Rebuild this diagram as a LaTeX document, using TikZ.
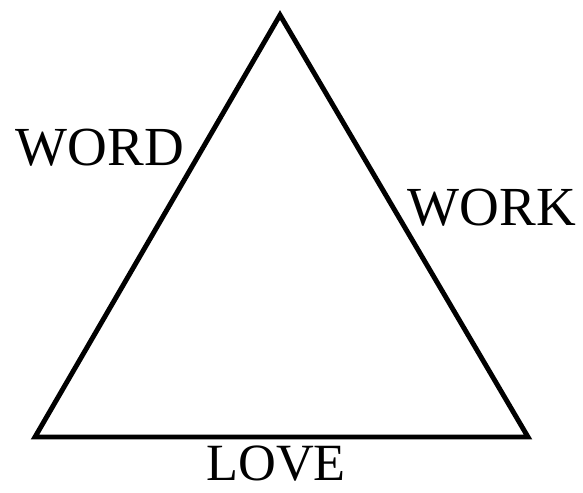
\documentclass[tikz,border=0pt]{standalone}
\usepackage{fontspec}
\setmainfont{Liberation Serif}
\usetikzlibrary{positioning}
\tikzstyle{side} = [line width=4.2pt, line join=miter]
\tikzstyle{word} = [inner sep=0pt, anchor=base, text depth=0pt, text height=0.68em, font=\fontsize{47}{50}\selectfont]

\begin{document}
\begin{tikzpicture}[x=0.03cm, y=-0.03cm]
    \useasboundingbox (0,0) rectangle (583,492);
    % corners
    \coordinate (top) at (280,15);
    \coordinate (left) at (35,437);
    \coordinate (right) at (528,437);
    \draw[side] (top) -- (right) -- (left) -- cycle;
    % labels
    \node[word] (wordlbl) at (100,165) {WORD};
    \node[word] (worklbl) at (492,225) {WORK};
    \node[word, scale=0.95] (lovelbl) at (276,480) {LOVE};
\end{tikzpicture}
\end{document}
